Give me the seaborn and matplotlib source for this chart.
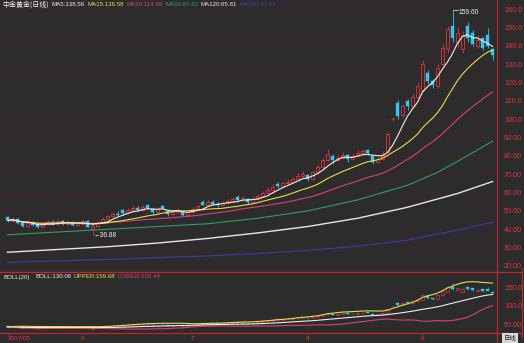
import numpy as np
import pandas as pd
import matplotlib
matplotlib.use("Agg")
import matplotlib.pyplot as plt
import seaborn as sns

# ---------------- data ----------------
opens = [46.5, 44.5, 45.5, 43.5, 42, 43.5, 42.5, 41.5, 43, 44, 43, 44.5, 43, 44, 42.5, 43, 44.5, 40,
         42, 44, 45.5, 47, 48.5, 50.5, 49, 50.5, 51.5, 50.5, 53, 51, 49.5, 52.5, 50, 48.5, 49.5, 49.5,
         48, 49.5, 51, 55, 53.5, 55, 54, 53, 54.5, 55.5, 57.5, 56, 56.5, 55, 56.5, 58, 60, 61.5, 64.5,
         63.5, 65, 66, 67.5, 69, 69.5, 67.5, 71, 74, 78, 80, 77.5, 79, 80.5, 78.5, 80, 81.5, 83, 80,
         76.5, 78.5, 82, 100, 109, 102, 110, 107, 112, 116, 125, 121, 118, 130, 138, 151, 142, 138,
         151, 147, 140, 144, 146, 138]
closes = [44.8, 45.5, 43.5, 42, 43.5, 42.5, 41.2, 43, 44, 43, 44.5, 43, 43.8, 42.5, 43.5, 44.5, 41.5, 42,
          44, 45.5, 47, 48.5, 48, 49, 50.5, 51.5, 50.5, 52, 51.5, 49.5, 51, 51.5, 48.5, 49.5, 50.5, 48,
          49.5, 51, 52.5, 53.5, 55, 54, 53, 54.5, 55.5, 56.5, 56, 57, 55, 56.5, 58, 60, 61.5, 63, 63.5,
          65, 66, 67.5, 69, 70, 67.5, 71, 74, 78, 81, 77.5, 79, 80.5, 78.5, 80, 81.5, 82.5, 81.5, 76.5,
          78.5, 81, 92, 100.3, 101.7, 107, 107, 112, 118, 130, 121, 118.5, 128, 139, 149, 144, 147, 146,
          144, 141, 143, 139, 140, 135]
highs = [47, 46.5, 46, 44, 44.5, 44.5, 43, 44, 45, 45, 45.5, 45, 45, 44.5, 44.5, 45.5, 45, 43,
         44.5, 46.5, 48, 49.5, 50, 51, 51.5, 53, 52.5, 53.5, 54, 51.5, 52, 53, 50.5, 50.5, 51.5, 50,
         50.5, 52, 53.5, 56, 56, 56, 55, 55.5, 56.5, 57.5, 58.5, 58, 57, 57.5, 59, 61, 63, 64.5, 65.5,
         66, 67.5, 68.5, 70.5, 71.5, 70, 72, 75.5, 79, 84, 81, 80.5, 82, 81, 81.5, 83, 84, 83.5, 80.5,
         79.5, 82.5, 93, 101, 110.5, 108, 111, 113.5, 120, 132, 127, 122, 130, 141, 151, 159.6, 150, 148,
         153, 148.5, 146, 145, 149.5, 139]
lows = [44, 44, 43, 41.5, 41.5, 42, 40.5, 41, 42.5, 42.5, 42.5, 42.5, 42.5, 42, 42, 42.5, 41, 36.88,
        41.5, 43.5, 45, 46.5, 47, 48, 48.5, 50, 50, 50, 51, 48.5, 49, 51, 47.5, 48, 49, 47.5,
        47.5, 49, 50.5, 53, 53, 53, 52, 52.5, 54, 55, 55.5, 55.5, 54, 54.5, 56, 57.5, 59.5, 61, 62.5,
        63, 64.5, 65.5, 67, 68.5, 66.5, 67, 70.5, 73, 77, 75.5, 77, 78.5, 76.5, 78, 79.5, 81, 80.5, 75.5,
        76, 78, 81.5, 99, 100, 101, 105, 106, 111, 115, 119, 117, 117, 129, 136, 142, 139, 136,
        142, 140, 139, 137.5, 139, 132]

# long moving averages (history not visible)
ma_idx = [0, 10, 20, 30, 40, 50, 60, 70, 80, 86, 90, 97]
ma60 = [37, 38.5, 40, 41.5, 43, 46, 50, 56, 64, 71, 77, 88]
ma120 = [27.5, 29, 30.5, 32.5, 35, 38, 41.5, 46, 52, 56.5, 59.5, 66]
ma250 = [22, 22.8, 23.6, 24.5, 25.5, 26.8, 28.5, 30.8, 34, 37.5, 39.5, 43.9]

main_ticks = [160, 150, 140, 130, 120, 110, 100, 90, 80, 70, 60, 50, 40, 30, 20]
main_tick_labels = ["160.0", "150.0", "140.0", "130.0", "120.0", "110.0", "100.0", "90.00",
                    "80.00", "70.00", "60.00", "50.00", "40.00", "30.00", "20.00"]
boll_ticks = [150, 100, 50]
boll_tick_labels = ["150.0", "100.0", "50.00"]
month_pos = [0, 15, 37, 60, 83]
month_labels = ["2007/05", "6", "7", "8", "9"]

main_legend = [("中金黄金(日线)", "title"), ("MA5:138.56", "ma5"), ("MA15:136.58", "ma15"),
               ("MA30:114.58", "ma30"), ("MA60:87.62", "ma60"), ("MA120:65.81", "ma120"),
               ("MA250:43.92", "ma250")]
boll_legend = [("BOLL(20)", "mid"), ("BOLL:130.06", "mid"), ("UPPER:159.68", "up"),
               ("LOWER:100.44", "low")]
low_label = "←36.88"
high_label = "159.60"

# ---------------- style ----------------
W, H = 524, 343
BG = "#2c2c2c"
RED = "#e8343a"
FRAME = "#c4242b"
CYAN = "#2ec8f2"
C = {"title": "#f0f0f0", "ma5": "#eeeeee", "ma15": "#e0df4c", "ma30": "#d9407c",
     "ma60": "#2f9f5f", "ma120": "#e6e6e6", "ma250": "#3d3da8",
     "mid": "#eeeeee", "up": "#e0df4c", "low": "#d9407c"}

NUMFONT = ["Liberation Sans", "DejaVu Sans"]
CJKFONT = ["Noto Sans CJK SC", "DejaVu Sans"]
plt.rcParams["font.family"] = NUMFONT

df = pd.DataFrame({"i": np.arange(len(closes)), "open": opens, "close": closes,
                   "high": highs, "low": lows})
s = df["close"]
df["ma5"] = s.rolling(5, min_periods=1).mean()
df["ma15"] = s.rolling(15, min_periods=1).mean()
df["ma30"] = s.rolling(30, min_periods=1).mean()
df["mid"] = s.rolling(20, min_periods=1).mean()
sd = s.rolling(20, min_periods=1).std(ddof=0)
df["up"] = df["mid"] + 2 * sd
df["low_b"] = df["mid"] - 2 * sd
ma_df = pd.DataFrame({"i": ma_idx, "ma60": ma60, "ma120": ma120, "ma250": ma250})

fig = plt.figure(figsize=(W / 100, H / 100), dpi=100, facecolor=BG)


def px(x0, y0, x1, y1):
    return [x0 / W, 1 - y1 / H, (x1 - x0) / W, (y1 - y0) / H]


ax = fig.add_axes(px(2, 5, 497, 272))
axb = fig.add_axes(px(2, 272, 497, 333))
N = len(closes)
for a in (ax, axb):
    a.set_facecolor(BG)
    a.set_xlim(-1.1, N - 0.1)
    for sp in a.spines.values():
        sp.set_visible(False)


def candles(a, lw, wid):
    o = df["open"].values
    c = df["close"].values
    up = c >= o
    cols = np.where(up, RED, CYAN)
    a.vlines(df["i"], df["low"], df["high"], colors=cols, linewidth=lw, zorder=2)
    bot = np.minimum(o, c)
    hgt = np.maximum(np.abs(c - o), 0.25)
    a.bar(df["i"][up], hgt[up], bottom=bot[up], width=wid, facecolor=BG,
          edgecolor=RED, linewidth=lw, zorder=3)
    a.bar(df["i"][~up], hgt[~up], bottom=bot[~up], width=wid, color=CYAN,
          edgecolor=CYAN, linewidth=lw * 0.5, zorder=3)


# ---------------- main panel ----------------
ax.set_ylim(16.73, 162.18)
for t in main_ticks:
    ax.axhline(t, color="#6a1c20", linewidth=0.5, linestyle=(0, (2, 2)), zorder=1)
candles(ax, 0.6, 0.66)
sns.lineplot(data=ma_df, x="i", y="ma250", ax=ax, color=C["ma250"], linewidth=0.8, zorder=4)
sns.lineplot(data=ma_df, x="i", y="ma120", ax=ax, color=C["ma120"], linewidth=1.0, zorder=4)
sns.lineplot(data=ma_df, x="i", y="ma60", ax=ax, color=C["ma60"], linewidth=0.8, zorder=4)
sns.lineplot(data=df, x="i", y="ma30", ax=ax, color=C["ma30"], linewidth=0.8, zorder=4)
sns.lineplot(data=df, x="i", y="ma15", ax=ax, color=C["ma15"], linewidth=0.8, zorder=4)
sns.lineplot(data=df, x="i", y="ma5", ax=ax, color=C["ma5"], linewidth=0.8, zorder=5)

ilow = int(np.argmin(lows))
ax.text(ilow + 0.3, lows[ilow], low_label, color="#f0f0f0", fontsize=4.8,
        va="center", ha="left", zorder=6)
ihigh = int(np.argmax(highs))
ax.plot([ihigh, ihigh + 1.1], [highs[ihigh], highs[ihigh]], color="#f0f0f0",
        linewidth=0.5, zorder=6)
ax.text(ihigh + 1.2, highs[ihigh] - 1.5, high_label, color="#f0f0f0", fontsize=4.8,
        va="center", ha="left", zorder=6)

ax.yaxis.tick_right()
ax.set_yticks(main_ticks)
ax.set_yticklabels(main_tick_labels)
ax.tick_params(axis="y", colors=FRAME, labelcolor=RED, length=0, pad=5, labelsize=5.2)
ax.set_xticks([])
ax.set_xlabel("")
ax.set_ylabel("")

# ---------------- BOLL panel ----------------
axb.set_ylim(28.9, 189.5)
candles(axb, 0.45, 0.55)
sns.lineplot(data=df, x="i", y="low_b", ax=axb, color=C["low"], linewidth=0.8, zorder=4)
sns.lineplot(data=df, x="i", y="mid", ax=axb, color=C["mid"], linewidth=0.8, zorder=4)
sns.lineplot(data=df, x="i", y="up", ax=axb, color=C["up"], linewidth=0.8, zorder=4)
axb.yaxis.tick_right()
axb.set_yticks(boll_ticks)
axb.set_yticklabels(boll_tick_labels)
axb.tick_params(axis="y", colors=FRAME, labelcolor=RED, length=0, pad=5, labelsize=5.2)
axb.set_xticks(month_pos)
axb.set_xticklabels(month_labels)
axb.tick_params(axis="x", colors=FRAME, labelcolor=RED, length=1.5, width=0.6, pad=0.6,
                labelsize=4.6)
for lab in axb.get_xticklabels()[:1]:
    lab.set_ha("left")
axb.set_xlabel("")
axb.set_ylabel("")

# ---------------- frame lines ----------------
def hline(y, x0, x1):
    fig.add_artist(plt.Line2D([x0 / W, x1 / W], [1 - y / H, 1 - y / H], color=FRAME,
                              linewidth=0.9))


def vline(x, y0, y1):
    fig.add_artist(plt.Line2D([x / W, x / W], [1 - y0 / H, 1 - y1 / H], color=FRAME,
                              linewidth=0.9))


hline(272, 0, 522)
hline(333, 0, 522)
vline(497, 0, 343)
vline(522, 268, 337)

# ---------------- legend texts (placed left to right, never overlapping) ----------------
renderer = fig.canvas.get_renderer()


def legend_row(items, xs, ypix, size):
    prev_end = -1e9
    for (txt, key), xx in zip(items, xs):
        fam = CJKFONT if key == "title" else NUMFONT
        fs = size + 0.6 if key == "title" else size
        x = max(xx, prev_end + 2.5)
        t = fig.text(x / W, 1 - ypix / H, txt, color=C[key], fontsize=fs, family=fam,
                     va="center", ha="left")
        prev_end = t.get_window_extent(renderer).x1


legend_row(main_legend, [2, 52, 80, 115, 153, 185, 226], 5, 4.4)
legend_row(boll_legend, [3, 35, 70, 110], 277, 4.4)

fig.text(510 / W, 1 - 338 / H, "日线", color="#202020", fontsize=4.6, family=CJKFONT,
         va="center", ha="center",
         bbox=dict(boxstyle="square,pad=0.2", facecolor="#d8d8d8", edgecolor="none"))

fig.savefig("out.png", dpi=100, facecolor=BG)
